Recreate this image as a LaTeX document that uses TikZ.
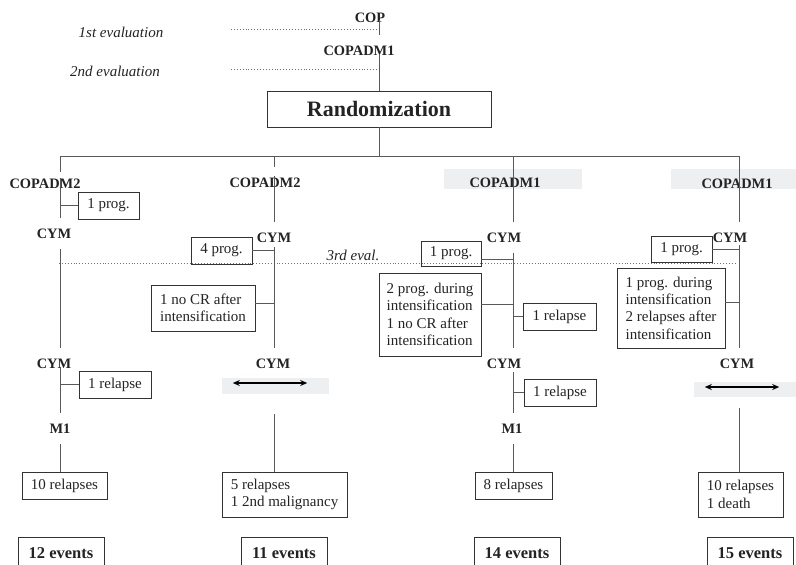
\documentclass[tikz,border=0pt]{standalone}
\usepackage{fontspec}
\setmainfont{Liberation Serif}
\usetikzlibrary{arrows.meta,positioning}
\definecolor{paleband}{RGB}{237,239,241}
\definecolor{inkgray}{RGB}{35,35,35}

\begin{document}
\begin{tikzpicture}[x=1pt,y=-1pt,
  arm/.style={draw=black!65,line width=1pt},
  evalline/.style={draw=black!55,line width=0.9pt,dotted},
  drug/.style={font=\fontsize{14.4}{16}\selectfont\bfseries,text=inkgray,inner sep=0pt,
    text height=10pt,text depth=0pt,outer ysep=10.5pt},
  evbox/.style={draw=black!80,line width=0.9pt,align=left,inner sep=0pt,outer sep=0pt,
    text=inkgray,font=\fontsize{15}{17.3}\selectfont},
  tally/.style={draw=black!80,line width=0.9pt,inner sep=0pt,minimum width=86pt,
    minimum height=32pt,font=\fontsize{16.5}{18}\selectfont\bfseries,text=inkgray},
  band/.style={fill=paleband,inner sep=0pt},
  evaltext/.style={font=\fontsize{15}{17}\selectfont\itshape,text=inkgray},
  twoway/.style={draw=black,line width=1.4pt,{Stealth[length=7pt,width=6pt]}-{Stealth[length=7pt,width=6pt]}},
]
  % Page
  \clip (0,0) rectangle (796,565);

  % Column axes
  \coordinate (colA) at (60,0);
  \coordinate (colB) at (274,0);
  \coordinate (colC) at (513,0);
  \coordinate (colD) at (739,0);
  \coordinate (mid) at (379,0);

  % Evaluations
  \node[evaltext] (ev1) at (121,32) {1st evaluation};
  \node[evaltext] (ev2) at (115,71) {2nd evaluation};
  \node[evaltext] (ev3) at (353,255) {3rd eval.};
  \coordinate (e1) at (231,29);
  \coordinate (e2) at (231,69);
  \coordinate (e3) at (59,263);
  \draw[evalline] (e1) -- (e1 -| mid);
  \draw[evalline] (e2) -- (e2 -| mid);
  \draw[evalline] (e3) -- ([xshift=-2pt]e3 -| colD);

  % Induction and randomization
  \node[drug] (cop) at (370,17) {COP};
  \node[drug] (induct) at (359,50) {COPADM1};
  \node[draw=black!80,line width=0.9pt,minimum width=224pt,minimum height=36pt,inner sep=0pt,
    font=\fontsize{22}{24}\selectfont\bfseries,text=inkgray] (rand) at (379,109) {Randomization};
  \draw[arm] ([yshift=-3pt]cop.center -| mid) -- ([yshift=15pt]induct.center -| mid);
  \draw[arm] ([yshift=-5pt]induct.center -| mid) -- (rand.north);

  % Four arms
  \coordinate (split) at (379,156);
  \draw[arm] (rand.south) -- (split);
  \draw[arm] (split -| colA) -- (split -| colD);

  % Grey bands
  \node[band,minimum width=138pt,minimum height=20pt] (bandC) at (513,179) {};
  \node[band,minimum width=125pt,minimum height=20pt] (bandD) at (733.5,179) {};
  \node[band,minimum width=107pt,minimum height=16pt] (bandB) at (275.5,386) {};
  \node[band,minimum width=102pt,minimum height=15pt] (bandD2) at (745,389.5) {};

  % Arm A
  \node[drug] (a0) at (45,183) {COPADM2};
  \node[drug] (a1) at (54,233) {CYM};
  \node[drug] (a2) at (54,363) {CYM};
  \node[drug] (a3) at (60,428) {M1};
  \node[evbox,minimum width=61pt,minimum height=27pt] (pa1) at (108.5,205.5) {1 prog.};
  \node[evbox,minimum width=72pt,minimum height=27pt] (ra1) at (115,384.5) {1 relapse};
  \node[evbox,minimum width=85pt,minimum height=27pt] (ra) at (64.5,485.5) {10 relapses};
  \node[tally] (ta) at (61,553) {12 events};
  \draw[arm] (split -| colA) -- ([yshift=11pt]a0.center -| colA);
  \draw[arm] ([yshift=5pt]a0.center -| colA) -- (a1.north -| colA);
  \draw[arm] (a1.south -| colA) -- (a2.north -| colA);
  \draw[arm] ([yshift=-4pt]a2.center -| colA) -- (a3.north -| colA);
  \draw[arm] (a3.south -| colA) -- (ra.north -| colA);
  \draw[arm] (pa1.west) -- (pa1.west -| colA);
  \draw[arm] (ra1.west) -- (ra1.west -| colA);

  % Arm B
  \node[drug] (b0) at (265,182) {COPADM2};
  \node[drug] (b1) at (274,237) {CYM};
  \node[drug] (b2) at (273,363) {CYM};
  \node[evbox,minimum width=61pt,minimum height=27pt] (pb1) at (221.5,250.5) {4 prog.};
  \node[evbox,minimum width=104pt,minimum height=46pt] (pb2) at (203,308) {1 no CR after\\intensification};
  \node[evbox,minimum width=125pt,minimum height=45pt] (rb) at (284.5,494.5) {5 relapses\\1 2nd malignancy};
  \node[tally] (tb) at (284,553) {11 events};
  \draw[arm] (split -| colB) -- ([yshift=15pt]b0.center -| colB);
  \draw[arm] ([yshift=6pt]b0.center -| colB) -- (b1.north -| colB);
  \draw[arm] ([yshift=-10pt]b1.center -| colB) -- (b2.north -| colB);
  \draw[arm] (pb1.east) -- (pb1.east -| colB);
  \draw[arm] ([yshift=5pt]pb2.east) -- ([yshift=5pt]pb2.east -| colB);
  \draw[twoway] ([xshift=11pt,yshift=3pt]bandB.west) -- ([xshift=-22pt,yshift=3pt]bandB.east);
  \draw[arm] ([yshift=-20pt]bandB.south -| colB) -- (rb.north -| colB);

  % Arm C
  \node[drug] (c0) at (505,182) {COPADM1};
  \node[drug] (c1) at (504,237) {CYM};
  \node[drug] (c2) at (504,363) {CYM};
  \node[drug] (c3) at (512,428) {M1};
  \node[evbox,minimum width=60pt,minimum height=25pt] (pc1) at (451,253.5) {1 prog.};
  \node[evbox,minimum width=102pt,minimum height=83pt] (pc2) at (430,314.5)
    {2 prog. during\\intensification\\1 no CR after\\intensification};
  \node[evbox,minimum width=73pt,minimum height=27pt] (rc1) at (559.5,316.5) {1 relapse};
  \node[evbox,minimum width=72pt,minimum height=27pt] (rc2) at (560,392.5) {1 relapse};
  \node[evbox,minimum width=77pt,minimum height=27pt] (rc) at (513.5,485.5) {8 relapses};
  \node[tally] (tc) at (517,553) {14 events};
  \draw[arm] (split -| colC) -- (c1.north -| colC);
  \draw[arm] (c1.south -| colC) -- (c2.north -| colC);
  \draw[arm] ([yshift=-9pt]c2.center -| colC) -- (c3.north -| colC);
  \draw[arm] (c3.south -| colC) -- (rc.north -| colC);
  \draw[arm] ([yshift=-5.5pt]pc1.east) -- ([yshift=-5.5pt]pc1.east -| colC);
  \draw[arm] ([yshift=10pt]pc2.east) -- ([yshift=10pt]pc2.east -| colC);
  \draw[arm] (rc1.west) -- (rc1.west -| colC);
  \draw[arm] (rc2.west) -- (rc2.west -| colC);

  % Arm D
  \node[drug] (d0) at (737,183) {COPADM1};
  \node[drug] (d1) at (730,237) {CYM};
  \node[drug] (d2) at (737,363) {CYM};
  \node[evbox,minimum width=61pt,minimum height=26pt] (pd1) at (681.5,249) {1 prog.};
  \node[evbox,minimum width=108pt,minimum height=80pt] (pd2) at (671,308)
    {1 prog. during\\intensification\\2 relapses after\\intensification};
  \node[evbox,minimum width=85pt,minimum height=45pt] (rd) at (740.5,494.5) {10 relapses\\1 death};
  \node[tally] (td) at (750,553) {15 events};
  \draw[arm] (split -| colD) -- (d1.north -| colD);
  \draw[arm] ([yshift=-8pt]d1.center -| colD) -- (d2.north -| colD);
  \draw[arm] (pd1.east) -- (pd1.east -| colD);
  \draw[arm] ([yshift=6pt]pd2.east) -- ([yshift=6pt]pd2.east -| colD);
  \draw[twoway] ([xshift=11pt,yshift=2.5pt]bandD2.west) -- ([xshift=-17pt,yshift=2.5pt]bandD2.east);
  \draw[arm] ([yshift=-11pt]bandD2.south -| colD) -- (rd.north -| colD);
\end{tikzpicture}
\end{document}
